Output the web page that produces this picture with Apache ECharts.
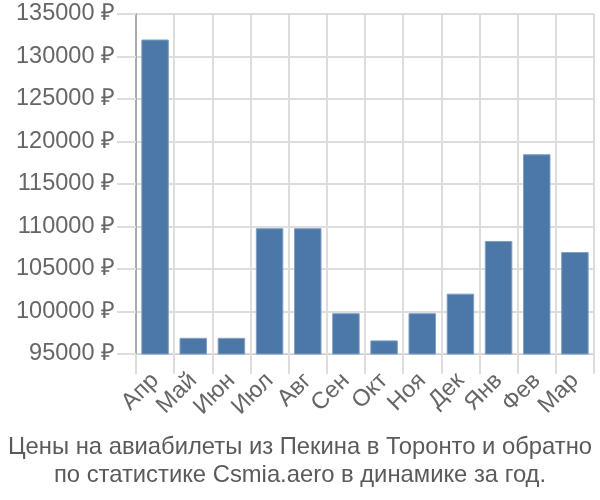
<!DOCTYPE html>
<html><head><meta charset="utf-8">
<script src="https://cdn.jsdelivr.net/npm/echarts@6/dist/echarts.min.js"></script>
<style>html,body{margin:0;padding:0;background:#fff}#c{width:600px;height:500px}</style>
</head><body><div id="c"></div>
<script>
var categories = ['Апр','Май','Июн','Июл','Авг','Сен','Окт','Ноя','Дек','Янв','Фев','Мар'];
var prices = [132000, 96900, 96900, 109800, 109800, 99800, 96600, 99800, 102100, 108300, 118500, 107000];
var titleLines = ['Цены на авиабилеты из Пекина в Торонто и обратно', 'по статистике Csmia.aero в динамике за год.'];
var yMin = 95000, yMax = 135000, yStep = 5000;

var chart = echarts.init(document.getElementById('c'));
chart.setOption({
  animation: false,
  textStyle: {fontFamily: 'Liberation Sans'},
  title: {
    text: titleLines.join('\n'),
    left: 'center', top: 428,
    textStyle: {fontSize: 23.8, fontWeight: 'normal', color: '#5a5a5a', lineHeight: 28, fontFamily: 'Liberation Sans'}
  },
  grid: {left: 136, right: 6, top: 14, bottom: 146},
  xAxis: {
    type: 'category', data: categories,
    axisLine: {lineStyle: {color: '#ccc', width: 1}},
    axisTick: {show: true, length: 20, lineStyle: {color: '#ddd', width: 2}},
    splitLine: {show: true, lineStyle: {color: '#ddd', width: 2}},
    axisLabel: {rotate: 45, fontSize: 23.5, color: '#666', margin: 23, interval: 0}
  },
  yAxis: {
    type: 'value', min: yMin, max: yMax, interval: yStep,
    axisLine: {show: true, lineStyle: {color: '#aaa', width: 2}},
    axisTick: {show: true, length: 19, lineStyle: {color: '#ddd', width: 2}},
    splitLine: {lineStyle: {color: '#ddd', width: 2}},
    axisLabel: {fontSize: 23.5, color: '#666', margin: 21, formatter: function(v){return v + ' ₽';}}
  },
  series: [{
    type: 'bar', data: prices, barCategoryGap: '28%',
    itemStyle: {color: '#4c78a8', borderColor: '#7f9fc4', borderWidth: 1}
  }]
});
</script></body></html>
